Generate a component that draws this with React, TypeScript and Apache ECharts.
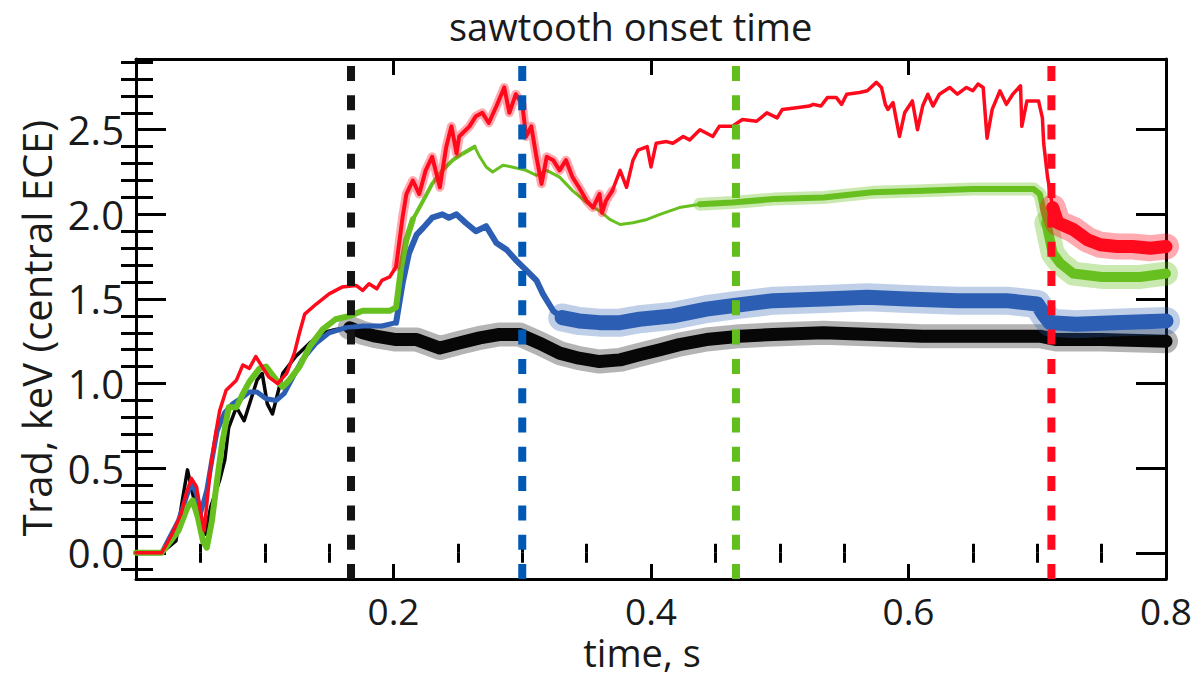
import React, { useEffect, useRef } from "react";
import * as echarts from "echarts";

const TITLE = "sawtooth onset time";
const X_NAME = "time, s";
const Y_NAME = "Trad, keV (central ECE)";

const X_MIN = 0;
const X_MAX = 0.8;
const Y_MIN = -0.155;
const Y_MAX = 2.918;

const X_MAJOR_TICKS = [0.2, 0.4, 0.6, 0.8];
const X_MINOR_TICKS = [0.05, 0.1, 0.15, 0.25, 0.3, 0.35, 0.45, 0.5, 0.55, 0.65, 0.7, 0.75];
const Y_MAJOR_TICKS = [0, 0.5, 1.0, 1.5, 2.0, 2.5];
const Y_MINOR_TICKS = [-0.1, 0.1, 0.2, 0.3, 0.4, 0.6, 0.7, 0.8, 0.9, 1.1, 1.2, 1.3, 1.4, 1.6, 1.7, 1.8, 1.9, 2.1, 2.2, 2.3, 2.4, 2.6, 2.7, 2.8, 2.9];

// sawtooth onset times (s): black, blue, green, red
const ONSET_TIMES = [0.167, 0.3, 0.466, 0.711];

// [time s, Trad keV]
const BLACK: [number, number][] = [
  [0, 0], [0.02, 0], [0.031, 0.07], [0.036, 0.31], [0.04, 0.49], [0.044, 0.35], [0.049, 0.19], [0.054, 0.11],
  [0.058, 0.27], [0.065, 0.43], [0.069, 0.55], [0.072, 0.74], [0.078, 0.86], [0.084, 0.78], [0.089, 0.9],
  [0.094, 1.02], [0.098, 1.06], [0.102, 0.88], [0.106, 0.82], [0.11, 0.94], [0.114, 1.06], [0.124, 1.16],
  [0.135, 1.24], [0.145, 1.3], [0.155, 1.32], [0.166, 1.33], [0.176, 1.3], [0.186, 1.28], [0.202, 1.26],
  [0.218, 1.26], [0.236, 1.21], [0.251, 1.24], [0.267, 1.27], [0.282, 1.29], [0.298, 1.29], [0.313, 1.24],
  [0.329, 1.18], [0.344, 1.15], [0.36, 1.13], [0.376, 1.14], [0.391, 1.17], [0.407, 1.2], [0.422, 1.23],
  [0.443, 1.26], [0.469, 1.28], [0.495, 1.29], [0.534, 1.3], [0.572, 1.29], [0.611, 1.28], [0.65, 1.28],
  [0.702, 1.28], [0.715, 1.26], [0.75, 1.26], [0.8, 1.25],
];

const BLUE: [number, number][] = [
  [0, 0], [0.02, 0], [0.033, 0.19], [0.04, 0.35], [0.043, 0.41], [0.047, 0.35], [0.05, 0.23], [0.055, 0.37],
  [0.059, 0.55], [0.063, 0.72], [0.069, 0.83], [0.075, 0.88], [0.083, 0.92], [0.088, 0.95], [0.094, 0.95],
  [0.101, 0.91], [0.109, 0.9], [0.115, 0.94], [0.122, 1.04], [0.129, 1.14], [0.14, 1.24], [0.15, 1.3],
  [0.163, 1.33], [0.176, 1.34], [0.191, 1.34], [0.202, 1.36], [0.207, 1.59], [0.212, 1.77], [0.218, 1.88],
  [0.223, 1.92], [0.23, 1.98], [0.238, 2.0], [0.243, 1.98], [0.249, 2.0], [0.256, 1.95], [0.264, 1.9],
  [0.272, 1.93], [0.28, 1.83], [0.288, 1.79], [0.295, 1.73], [0.303, 1.67], [0.311, 1.61], [0.316, 1.53],
  [0.324, 1.43], [0.331, 1.39], [0.344, 1.37], [0.36, 1.36], [0.376, 1.36], [0.391, 1.38], [0.417, 1.4],
  [0.443, 1.44], [0.463, 1.46], [0.495, 1.49], [0.534, 1.5], [0.568, 1.51], [0.599, 1.5], [0.638, 1.49],
  [0.676, 1.49], [0.7, 1.47], [0.705, 1.41], [0.71, 1.36], [0.73, 1.35], [0.76, 1.36], [0.8, 1.37],
];

const GREEN: [number, number][] = [
  [0, 0], [0.02, 0], [0.033, 0.13], [0.04, 0.27], [0.044, 0.31], [0.048, 0.21], [0.052, 0.07], [0.055, 0.03],
  [0.059, 0.19], [0.063, 0.43], [0.067, 0.65], [0.072, 0.86], [0.078, 0.86], [0.083, 0.94], [0.088, 1.01],
  [0.096, 1.09], [0.101, 1.1], [0.109, 1.02], [0.114, 0.98], [0.119, 1.02], [0.127, 1.1], [0.135, 1.22],
  [0.145, 1.32], [0.155, 1.38], [0.166, 1.4], [0.176, 1.43], [0.186, 1.43], [0.197, 1.43], [0.202, 1.45],
  [0.206, 1.69], [0.21, 1.85], [0.215, 1.97], [0.223, 2.08], [0.23, 2.18], [0.238, 2.26], [0.246, 2.32],
  [0.254, 2.36], [0.263, 2.4], [0.267, 2.34], [0.272, 2.28], [0.277, 2.25], [0.285, 2.29], [0.292, 2.28],
  [0.303, 2.26], [0.311, 2.23], [0.319, 2.26], [0.329, 2.22], [0.339, 2.14], [0.35, 2.07], [0.36, 2.02],
  [0.368, 1.97], [0.376, 1.94], [0.386, 1.95], [0.397, 1.97], [0.407, 2.0], [0.422, 2.04], [0.438, 2.06],
  [0.463, 2.07], [0.495, 2.09], [0.534, 2.1], [0.572, 2.13], [0.611, 2.14], [0.65, 2.15], [0.697, 2.15],
  [0.702, 2.12], [0.707, 1.95], [0.712, 1.77], [0.718, 1.71], [0.728, 1.65], [0.75, 1.63], [0.78, 1.63],
  [0.8, 1.65],
];

const RED: [number, number][] = [
  [0, 0], [0.02, 0], [0.028, 0.11], [0.035, 0.23], [0.039, 0.35], [0.043, 0.44], [0.047, 0.39], [0.05, 0.25],
  [0.053, 0.13], [0.055, 0.29], [0.058, 0.51], [0.062, 0.71], [0.065, 0.84], [0.07, 0.96], [0.078, 1.02],
  [0.083, 1.11], [0.088, 1.09], [0.093, 1.16], [0.098, 1.1], [0.103, 1.04], [0.11, 1.0], [0.117, 1.06],
  [0.123, 1.18], [0.127, 1.3], [0.131, 1.41], [0.14, 1.47], [0.15, 1.53], [0.16, 1.57], [0.171, 1.58],
  [0.176, 1.55], [0.181, 1.59], [0.187, 1.56], [0.191, 1.61], [0.197, 1.63], [0.202, 1.69], [0.207, 1.98],
  [0.21, 2.12], [0.215, 2.2], [0.22, 2.12], [0.225, 2.26], [0.23, 2.34], [0.236, 2.16], [0.241, 2.4],
  [0.245, 2.52], [0.249, 2.36], [0.251, 2.46], [0.259, 2.52], [0.264, 2.58], [0.269, 2.6], [0.274, 2.54],
  [0.28, 2.64], [0.286, 2.75], [0.29, 2.6], [0.295, 2.71], [0.3, 2.65], [0.303, 2.46], [0.307, 2.52],
  [0.311, 2.34], [0.315, 2.18], [0.319, 2.34], [0.324, 2.32], [0.329, 2.26], [0.334, 2.32], [0.339, 2.22],
  [0.344, 2.16], [0.35, 2.08], [0.355, 2.04], [0.36, 2.12], [0.362, 2.01], [0.365, 2.08], [0.37, 2.14],
  [0.376, 2.26], [0.381, 2.16], [0.386, 2.32], [0.39, 2.38], [0.397, 2.4], [0.4, 2.28], [0.404, 2.42],
  [0.412, 2.43], [0.417, 2.42], [0.425, 2.46], [0.43, 2.44], [0.438, 2.5], [0.448, 2.46], [0.453, 2.52],
  [0.463, 2.52], [0.471, 2.56], [0.482, 2.55], [0.49, 2.6], [0.498, 2.57], [0.502, 2.62], [0.513, 2.63],
  [0.523, 2.64], [0.526, 2.65], [0.532, 2.64], [0.537, 2.69], [0.544, 2.69], [0.548, 2.65], [0.552, 2.71],
  [0.562, 2.72], [0.568, 2.73], [0.575, 2.78], [0.579, 2.75], [0.582, 2.65], [0.584, 2.62], [0.588, 2.66],
  [0.593, 2.46], [0.597, 2.6], [0.603, 2.67], [0.607, 2.5], [0.611, 2.64], [0.615, 2.71], [0.619, 2.64],
  [0.624, 2.71], [0.632, 2.75], [0.638, 2.71], [0.645, 2.75], [0.65, 2.73], [0.654, 2.77], [0.658, 2.75],
  [0.661, 2.45], [0.665, 2.62], [0.671, 2.73], [0.676, 2.65], [0.681, 2.71], [0.687, 2.76], [0.688, 2.52],
  [0.692, 2.67], [0.701, 2.67], [0.704, 2.57], [0.705, 2.42], [0.708, 2.22], [0.712, 2.04], [0.716, 1.95],
  [0.728, 1.91], [0.739, 1.85], [0.749, 1.82], [0.762, 1.81], [0.774, 1.81], [0.788, 1.8], [0.8, 1.81],
];

const C_BLACK = "#070707";
const C_BLUE = "#2c5fb3";
const C_GREEN = "#67c01f";
const C_RED = "#ff0a1c";
const ONSET_COLORS = ["#141414", "#0058b5", "#62be1c", "#ff0a1e"];

const FONT = "'Open Sans', 'Noto Sans', sans-serif";
const TEXT_COLOR = "#1a1a1a";

// slice keeping one point beyond each boundary so segments join
function slicePts(data: [number, number][], t0: number, t1: number) {
  let i0 = 0;
  for (let i = 0; i < data.length; i++) if (data[i][0] <= t0) i0 = i;
  let i1 = data.length - 1;
  for (let i = data.length - 1; i >= 0; i--) if (data[i][0] >= t1) i1 = i;
  return data.slice(i0, i1 + 1);
}

function lineSeries(data: [number, number][], color: string, width: number, opacity = 1) {
  return {
    type: "line",
    data,
    xAxisIndex: 0,
    yAxisIndex: 0,
    symbol: "none",
    showSymbol: false,
    silent: true,
    clip: true,
    lineStyle: { color, width, opacity, join: "round", cap: "round" },
  };
}

// [t0, t1, coreWidth, haloWidth, haloOpacity]
type Seg = [number, number, number, number, number];
function trace(data: [number, number][], color: string, segs: Seg[]) {
  const out: any[] = [];
  segs.forEach(([t0, t1, w, hw, ho]) => {
    const pts = slicePts(data, t0, t1);
    if (hw > 0) out.push(lineSeries(pts, color, hw, ho));
    out.push(lineSeries(pts, color, w, 1));
  });
  return out;
}

function App() {
  const ref = useRef<HTMLDivElement>(null);
  useEffect(() => {
    if (!ref.current) return;
    const chart = echarts.init(ref.current, null, { renderer: "svg" });
    const axisLine = { show: true, onZero: false, lineStyle: { color: "#000", width: 3 } };
    const tickStyle = { color: "#000", width: 3 };
    const xBase = { type: "value", min: X_MIN, max: X_MAX, splitLine: { show: false } };
    const yBase = { type: "value", min: Y_MIN, max: Y_MAX, splitLine: { show: false } };

    const series: any[] = [
      ...trace(BLACK, C_BLACK, [
        [0, 0.166, 3.5, 0, 0],
        [0.166, 0.8, 13, 24, 0.3],
      ]),
      ...trace(BLUE, C_BLUE, [
        [0, 0.202, 5, 0, 0],
        [0.202, 0.331, 6, 0, 0],
        [0.331, 0.8, 15, 28, 0.3],
      ]),
      ...trace(GREEN, C_GREEN, [
        [0, 0.215, 6, 0, 0],
        [0.215, 0.263, 4, 0, 0],
        [0.263, 0.438, 3, 0, 0],
        [0.438, 0.707, 6, 13, 0.35],
        [0.707, 0.8, 10, 24, 0.35],
      ]),
      ...trace(RED, C_RED, [
        [0, 0.202, 3.5, 0, 0],
        [0.202, 0.37, 4, 9, 0.35],
        [0.37, 0.712, 3.5, 0, 0],
        [0.712, 0.8, 13, 26, 0.35],
      ]),
      ...ONSET_TIMES.map((t, i) => ({
        type: "line",
        data: [
          [t, Y_MIN],
          [t, Y_MAX],
        ],
        xAxisIndex: 0,
        yAxisIndex: 0,
        symbol: "none",
        silent: true,
        z: 5,
        lineStyle: { color: ONSET_COLORS[i], width: 8, type: [15, 14.3], cap: "butt" },
      })),
    ];

    chart.setOption({
      animation: false,
      backgroundColor: "#ffffff",
      title: {
        text: TITLE,
        left: 449,
        top: 7,
        padding: 0,
        textStyle: { fontFamily: FONT, fontSize: 38, fontWeight: "normal", color: TEXT_COLOR },
      },
      grid: { left: 136, top: 59, width: 1030, height: 520, containLabel: false },
      xAxis: [
        {
          ...xBase,
          position: "bottom",
          axisLine,
          axisTick: { show: true, inside: true, length: 15, lineStyle: tickStyle, customValues: X_MAJOR_TICKS },
          axisLabel: {
            show: true,
            customValues: X_MAJOR_TICKS,
            formatter: (v: number) => v.toFixed(1),
            margin: 14,
            fontFamily: FONT,
            fontSize: 37,
            lineHeight: 34,
            color: TEXT_COLOR,
          },
          name: X_NAME,
          nameLocation: "middle",
          nameGap: 52,
          nameTextStyle: {
            fontFamily: FONT,
            fontSize: 38,
            lineHeight: 36,
            color: TEXT_COLOR,
            padding: [0, 18, 0, 0],
          },
        },
        {
          ...xBase,
          position: "bottom",
          axisLine: { show: false },
          axisTick: { show: true, inside: true, length: 9, lineStyle: tickStyle, customValues: X_MINOR_TICKS },
          axisLabel: { show: false },
        },
        {
          ...xBase,
          position: "top",
          axisLine,
          axisTick: { show: true, inside: true, length: 16, lineStyle: tickStyle, customValues: X_MAJOR_TICKS },
          axisLabel: { show: false },
        },
        {
          ...xBase,
          position: "top",
          axisLine: { show: false },
          axisTick: { show: true, inside: true, length: 10, lineStyle: tickStyle, customValues: X_MINOR_TICKS },
          axisLabel: { show: false },
        },
      ],
      yAxis: [
        {
          ...yBase,
          position: "left",
          axisLine,
          axisTick: { show: true, inside: true, length: 30, lineStyle: tickStyle, customValues: Y_MAJOR_TICKS },
          axisLabel: {
            show: true,
            customValues: Y_MAJOR_TICKS,
            formatter: (v: number) => v.toFixed(1),
            margin: 12,
            fontFamily: FONT,
            fontSize: 40,
            color: TEXT_COLOR,
          },
          name: Y_NAME,
          nameLocation: "middle",
          nameRotate: 90,
          nameGap: 77,
          nameTextStyle: { fontFamily: FONT, fontSize: 40, color: TEXT_COLOR, padding: [0, 18, 0, 0] },
        },
        {
          ...yBase,
          position: "left",
          axisLine: { show: false },
          axisTick: { show: true, inside: true, length: 17, lineStyle: tickStyle, customValues: Y_MINOR_TICKS },
          axisLabel: { show: false },
        },
        {
          ...yBase,
          position: "right",
          axisLine,
          axisTick: { show: true, inside: true, length: 30, lineStyle: tickStyle, customValues: Y_MAJOR_TICKS },
          axisLabel: { show: false },
        },
        {
          ...yBase,
          position: "right",
          axisLine: { show: false },
          axisTick: { show: true, inside: true, length: 15, lineStyle: tickStyle, customValues: Y_MINOR_TICKS },
          axisLabel: { show: false },
        },
      ],
      series,
    });
    return () => chart.dispose();
  }, []);
  return (
    <div
      ref={ref}
      style={{ position: "absolute", left: 0, top: 0, width: 1200, height: 678, background: "#fff" }}
    />
  );
}

export default App;
